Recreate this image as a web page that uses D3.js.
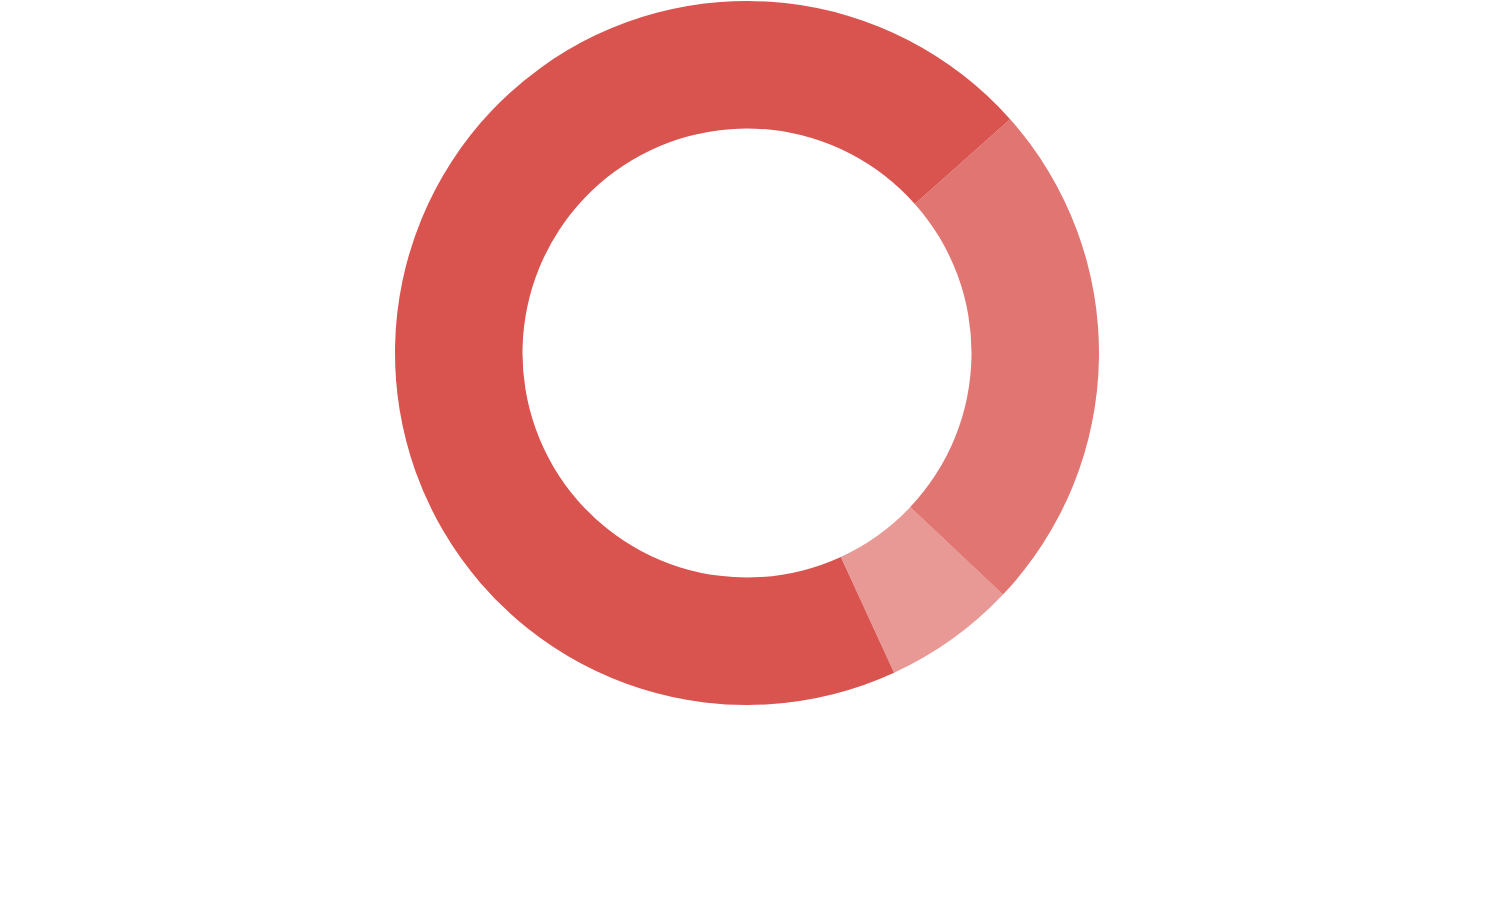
<!DOCTYPE html>
<html>
<head>
<meta charset="utf-8">
<script src="https://cdn.jsdelivr.net/npm/d3@7"></script>
<style>
  html, body { margin: 0; padding: 0; background: #fff; }
  svg { display: block; }
</style>
</head>
<body>
<svg id="chart" width="1498" height="921"></svg>
<script>
const categories = ["A", "B", "C"];
const values = [70.3, 23.6, 6.1];
const opacities = [1, 0.8, 0.6];

const W = 1498, H = 921;
const cx = 747, cy = 353;
const outerR = 352, innerR = 224.5;
const startDeg = 155.3;

const svg = d3.select("#chart");
const g = svg.append("g").attr("transform", `translate(${cx},${cy})`);

const pie = d3.pie()
  .sort(null)
  .value(d => d.value)
  .startAngle(startDeg * Math.PI / 180)
  .endAngle(startDeg * Math.PI / 180 + 2 * Math.PI);

const arc = d3.arc().innerRadius(innerR).outerRadius(outerR);

const data = categories.map((c, i) => ({ name: c, value: values[i], op: opacities[i] }));

const color = d3.scaleOrdinal().domain(categories).range(["#d9534f", "#d9534f", "#d9534f"]);

g.selectAll("path")
  .data(pie(data))
  .join("path")
  .attr("d", arc)
  .attr("fill", d => color(d.data.name))
  .attr("fill-opacity", d => d.data.op);
</script>
</body>
</html>
